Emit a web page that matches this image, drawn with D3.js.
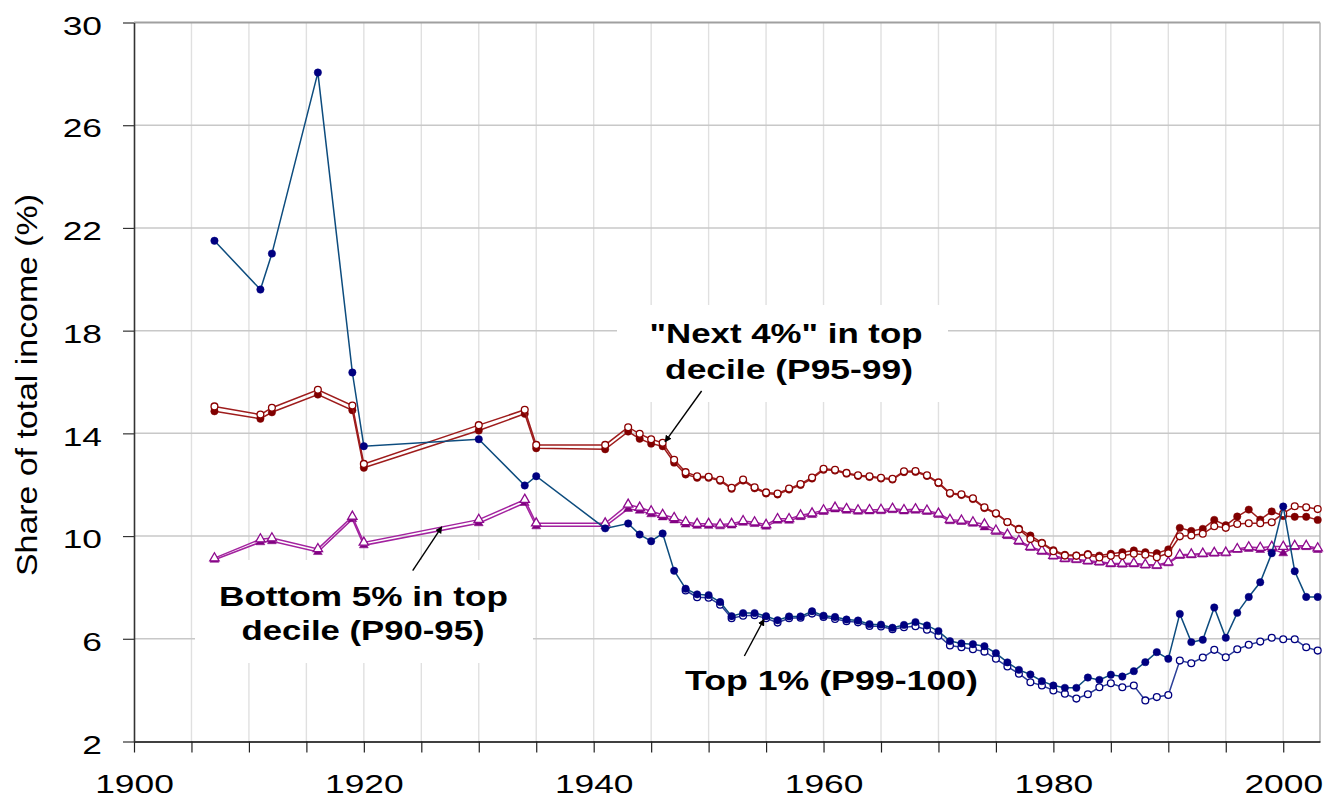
<!DOCTYPE html>
<html>
<head>
<meta charset="utf-8">
<script src="https://cdn.jsdelivr.net/npm/d3@7"></script>
<style>
  body { margin: 0; background: #fff; }
  svg text { font-family: "Liberation Sans", Arial, sans-serif; }
</style>
</head>
<body>
<div id="chart"></div>
<script>
/* years with an observation */
var years = [1907, 1911, 1912, 1916, 1919, 1920, 1930, 1934, 1935, 1941,
  1943, 1944, 1945, 1946, 1947, 1948, 1949, 1950, 1951, 1952,
  1953, 1954, 1955, 1956, 1957, 1958, 1959, 1960, 1961, 1962,
  1963, 1964, 1965, 1966, 1967, 1968, 1969, 1970, 1971, 1972,
  1973, 1974, 1975, 1976, 1977, 1978, 1979, 1980, 1981, 1982,
  1983, 1984, 1985, 1986, 1987, 1988, 1989, 1990, 1991, 1992,
  1993, 1994, 1995, 1996, 1997, 1998, 1999, 2000, 2001, 2002, 2003];

// Top 1% (P99-100), filled markers
var top1Filled = [21.5, 19.6, 21.0, 28.05, 16.37, 13.5, 13.77, 11.97, 12.33, 10.3,
  10.49, 10.06, 9.8, 10.1, 8.65, 7.95, 7.73, 7.7, 7.43, 6.88,
  7.0, 7.0, 6.88, 6.72, 6.87, 6.87, 7.07, 6.9, 6.85, 6.75,
  6.71, 6.57, 6.55, 6.43, 6.54, 6.65, 6.52, 6.30, 5.91, 5.82,
  5.79, 5.71, 5.44, 5.08, 4.79, 4.61, 4.35, 4.18, 4.09, 4.09,
  4.49, 4.40, 4.60, 4.53, 4.74, 5.09, 5.48, 5.22, 6.97, 5.87,
  5.96, 7.22, 6.04, 7.01, 7.63, 8.20, 9.33, 11.15, 8.63, 7.63, 7.63];

// Top 1% (P99-100), open markers
var top1Open = [null, null, null, null, null, null, null, null, null, null,
  null, null, null, null, null, 7.88, 7.62, 7.6, 7.33, 6.8,
  6.9, 6.92, 6.8, 6.63, 6.8, 6.82, 6.98, 6.85, 6.77, 6.68,
  6.64, 6.5, 6.48, 6.37, 6.45, 6.49, 6.35, 6.12, 5.74, 5.67,
  5.59, 5.50, 5.22, 4.92, 4.64, 4.31, 4.18, 3.99, 3.86, 3.67,
  3.84, 4.11, 4.27, 4.11, 4.18, 3.6, 3.73, 3.81, 5.15, 5.05,
  5.27, 5.57, 5.28, 5.59, 5.77, 5.89, 6.04, 5.98, 5.98, 5.67, 5.54];

// "Next 4%" (P95-99), filled markers
var next4Filled = [14.86, 14.57, 14.82, 15.51, 14.90, 12.66, 14.11, 14.76, 13.42, 13.38,
  14.07, 13.79, 13.60, 13.50, 12.86, 12.40, 12.27, 12.27, 12.15, 11.84,
  12.16, 11.86, 11.66, 11.62, 11.81, 11.99, 12.24, 12.58, 12.55, 12.43,
  12.34, 12.30, 12.24, 12.20, 12.49, 12.50, 12.34, 12.06, 11.65, 11.60,
  11.44, 11.09, 10.87, 10.54, 10.29, 10.02, 9.74, 9.45, 9.27, 9.25,
  9.30, 9.24, 9.31, 9.37, 9.44, 9.37, 9.33, 9.48, 10.32, 10.20,
  10.28, 10.63, 10.42, 10.76, 11.03, 10.64, 10.96, 10.78, 10.75, 10.75, 10.63];

// "Next 4%" (P95-99), open markers
var next4Open = [15.05, 14.73, 15.0, 15.70, 15.08, 12.81, 14.32, 14.92, 13.55, 13.55,
  14.24, 13.98, 13.77, 13.63, 12.97, 12.49, 12.33, 12.31, 12.19, 11.88,
  12.2, 11.9, 11.7, 11.66, 11.85, 12.03, 12.28, 12.62, 12.58, 12.46,
  12.37, 12.33, 12.27, 12.23, 12.52, 12.53, 12.37, 12.09, 11.68, 11.63,
  11.47, 11.12, 10.89, 10.55, 10.26, 9.89, 9.72, 9.41, 9.24, 9.23,
  9.27, 9.17, 9.23, 9.23, 9.31, 9.27, 9.18, 9.33, 9.99, 10.02,
  10.09, 10.38, 10.32, 10.47, 10.5, 10.5, 10.54, 10.88, 11.16, 11.12, 11.05];

// Bottom 5% of top decile (P90-95), filled markers
var bottom5Filled = [9.08, 9.76, 9.80, 9.38, 10.66, 9.64, 10.50, 11.29, 10.38, 10.38,
  11.06, 10.99, 10.85, 10.73, 10.61, 10.45, 10.40, 10.40, 10.38, 10.41,
  10.52, 10.47, 10.37, 10.60, 10.60, 10.74, 10.82, 10.94, 11.04, 10.99,
  10.95, 10.96, 10.97, 11.01, 10.96, 10.99, 10.94, 10.82, 10.58, 10.55,
  10.48, 10.34, 10.16, 10.0, 9.77, 9.54, 9.38, 9.2, 9.09, 9.06,
  9.0, 8.96, 8.9, 8.89, 8.9, 8.85, 8.83, 8.94, 9.23, 9.25,
  9.28, 9.31, 9.32, 9.46, 9.5, 9.46, 9.5, 9.33, 9.57, 9.57, 9.46];

// Bottom 5% of top decile (P90-95), open markers
var bottom5Open = [9.14, 9.88, 9.92, 9.50, 10.76, 9.75, 10.64, 11.42, 10.5, 10.5,
  11.23, 11.11, 10.97, 10.83, 10.71, 10.55, 10.48, 10.48, 10.45, 10.48,
  10.59, 10.54, 10.44, 10.67, 10.67, 10.81, 10.89, 11.01, 11.11, 11.06,
  11.01, 11.02, 11.03, 11.07, 11.02, 11.05, 11.0, 10.88, 10.64, 10.61,
  10.54, 10.46, 10.22, 10.06, 9.82, 9.59, 9.43, 9.24, 9.13, 9.10,
  9.04, 9.0, 8.94, 8.93, 8.94, 8.89, 8.87, 8.98, 9.27, 9.29,
  9.32, 9.35, 9.36, 9.5, 9.57, 9.55, 9.59, 9.59, 9.62, 9.62, 9.53];

var yTicks = [2, 6, 10, 14, 18, 22, 26, 30];
var xLabelYears = [1900, 1920, 1940, 1960, 1980, 2000];

var width = 1324, height = 800;

var svg = d3.select("#chart").append("svg")
  .attr("width", width)
  .attr("height", height);

var x = d3.scaleLinear().domain([1900, 2003.2]).range([134, 1320]);
var y = d3.scaleLinear().domain([2, 30]).range([741.5, 22.5]);

/* gridlines */
var grid = svg.append("g").attr("class", "grid");
grid.selectAll("line.v")
  .data(d3.range(1905, 2001, 5))
  .enter().append("line")
  .attr("class", "v")
  .attr("x1", function (d) { return x(d); })
  .attr("x2", function (d) { return x(d); })
  .attr("y1", y(30)).attr("y2", y(2))
  .attr("stroke", "#e0e0e0")
  .attr("stroke-width", 1.4);

grid.selectAll("line.h")
  .data(yTicks.slice(1, -1))
  .enter().append("line")
  .attr("class", "h")
  .attr("x1", x(1900)).attr("x2", x(2003.2))
  .attr("y1", function (d) { return y(d); })
  .attr("y2", function (d) { return y(d); })
  .attr("stroke", "#c8c8c8")
  .attr("stroke-width", 1.5);

// top and right frame
grid.append("line")
  .attr("x1", x(1900)).attr("x2", x(2003.2))
  .attr("y1", y(30)).attr("y2", y(30))
  .attr("stroke", "#a0a0a0").attr("stroke-width", 2);
grid.append("line")
  .attr("x1", x(2003.2)).attr("x2", x(2003.2))
  .attr("y1", y(30)).attr("y2", y(2))
  .attr("stroke", "#b4b4b4").attr("stroke-width", 1.5);

/* white boxes behind two of the labels */
svg.append("rect").attr("x", 617).attr("y", 305).attr("width", 331).attr("height", 97).attr("fill", "#fff");
svg.append("rect").attr("x", 195).attr("y", 560).attr("width", 338).attr("height", 103).attr("fill", "#fff");

/* series */
var line = d3.line()
  .defined(function (d) { return d.v != null; })
  .x(function (d) { return x(d.yr); })
  .y(function (d) { return y(d.v); });

function drawSeries(values, lineColor, markColor, shape, filled) {
  var pts = years.map(function (yr, i) { return { yr: yr, v: values[i] }; })
    .filter(function (d) { return d.v != null; });
  var g = svg.append("g");
  g.append("path")
    .datum(pts)
    .attr("d", line)
    .attr("fill", "none")
    .attr("stroke", lineColor)
    .attr("stroke-width", 1.5);
  if (shape === "circle") {
    g.selectAll("circle").data(pts).enter().append("circle")
      .attr("cx", function (d) { return x(d.yr); })
      .attr("cy", function (d) { return y(d.v); })
      .attr("r", filled ? 3.7 : 3.4)
      .attr("fill", filled ? markColor : "#fff")
      .attr("stroke", markColor)
      .attr("stroke-width", filled ? 0.5 : 1.3);
  } else {
    var tri = d3.symbol().type(d3.symbolTriangle).size(filled ? 34 : 38);
    g.selectAll("path.mk").data(pts).enter().append("path")
      .attr("class", "mk")
      .attr("d", tri)
      .attr("transform", function (d) { return "translate(" + x(d.yr) + "," + y(d.v) + ")"; })
      .attr("fill", filled ? markColor : "#fff")
      .attr("stroke", markColor)
      .attr("stroke-width", filled ? 0.5 : 1.3);
  }
}

drawSeries(bottom5Filled, "#a3229f", "#800080", "triangle", true);
drawSeries(bottom5Open, "#a3229f", "#8e0a8e", "triangle", false);
drawSeries(next4Filled, "#9e1c1c", "#800000", "circle", true);
drawSeries(next4Open, "#9e1c1c", "#8b0000", "circle", false);
drawSeries(top1Open, "#2b3f98", "#000080", "circle", false);
drawSeries(top1Filled, "#0d4c7e", "#000080", "circle", true);

/* axes */
var xAxis = d3.axisBottom(x)
  .tickValues(d3.range(1900, 2001, 5))
  .tickSize(11)
  .tickSizeOuter(0)
  .tickFormat(function (d) { return xLabelYears.indexOf(d) >= 0 ? d : ""; });

var gx = svg.append("g")
  .attr("transform", "translate(0," + y(2) + ")")
  .call(xAxis);
gx.select(".domain").attr("stroke", "#000").attr("stroke-width", 1.6);
gx.selectAll(".tick line").attr("stroke", "#222").attr("stroke-width", 1.2);
gx.selectAll("text")
  .attr("y", 51.5)
  .attr("dy", null)
  .attr("fill", "#000")
  .attr("font-size", 26)
  .attr("transform", "scale(1.36,1)");

var yAxis = d3.axisLeft(y)
  .tickValues(yTicks)
  .tickSize(11)
  .tickSizeOuter(0);

var gy = svg.append("g")
  .attr("transform", "translate(" + x(1900) + ",0)")
  .call(yAxis);
gy.select(".domain").attr("stroke", "#333").attr("stroke-width", 1.6);
gy.selectAll(".tick line").attr("stroke", "#333").attr("stroke-width", 1.2);
gy.selectAll("text")
  .attr("x", -32 / 1.36)
  .attr("dy", "0.45em")
  .attr("fill", "#000")
  .attr("font-size", 26)
  .attr("transform", "scale(1.36,1)");

gx.attr("font-family", null);
gy.attr("font-family", null);

svg.append("text")
  .attr("transform", "translate(37,576) rotate(-90)")
  .attr("font-size", 30)
  .attr("textLength", 382)
  .attr("lengthAdjust", "spacingAndGlyphs")
  .attr("fill", "#000")
  .text("Share of total income (%)");

/* labels and arrows */
svg.append("defs").append("marker")
  .attr("id", "arrow")
  .attr("viewBox", "0 0 10 10")
  .attr("refX", 9).attr("refY", 5)
  .attr("markerWidth", 7).attr("markerHeight", 7)
  .attr("markerUnits", "userSpaceOnUse")
  .attr("orient", "auto")
  .append("path").attr("d", "M0,0L10,5L0,10z").attr("fill", "#000");

var labels = [
  { text: "\"Next 4%\" in top", cx: 786, base: 343, len: 273 },
  { text: "decile (P95-99)", cx: 789, base: 379, len: 248 },
  { text: "Bottom 5% in top", cx: 363.5, base: 605.5, len: 289 },
  { text: "decile (P90-95)", cx: 363, base: 640, len: 243 },
  { text: "Top 1% (P99-100)", cx: 831.5, base: 690, len: 293 }
];

svg.selectAll("text.lab")
  .data(labels)
  .enter().append("text")
  .attr("class", "lab")
  .attr("x", function (d) { return d.cx; })
  .attr("y", function (d) { return d.base; })
  .attr("text-anchor", "middle")
  .attr("font-size", 28)
  .attr("font-weight", "bold")
  .attr("textLength", function (d) { return d.len; })
  .attr("lengthAdjust", "spacingAndGlyphs")
  .attr("fill", "#000")
  .text(function (d) { return d.text; });

// arrows, in data units: from (year, share) to (year, share)
var arrows = [
  { x1: 1949.39, y1: 15.65, x2: 1946.21, y2: 13.67 },
  { x1: 1924.25, y1: 8.65, x2: 1926.78, y2: 10.36 },
  { x1: 1953.11, y1: 5.33, x2: 1954.82, y2: 6.76 }
];

svg.selectAll("line.arr")
  .data(arrows)
  .enter().append("line")
  .attr("class", "arr")
  .attr("x1", function (d) { return x(d.x1); })
  .attr("y1", function (d) { return y(d.y1); })
  .attr("x2", function (d) { return x(d.x2); })
  .attr("y2", function (d) { return y(d.y2); })
  .attr("stroke", "#000")
  .attr("stroke-width", 1.4)
  .attr("marker-end", "url(#arrow)");
</script>
</body>
</html>
